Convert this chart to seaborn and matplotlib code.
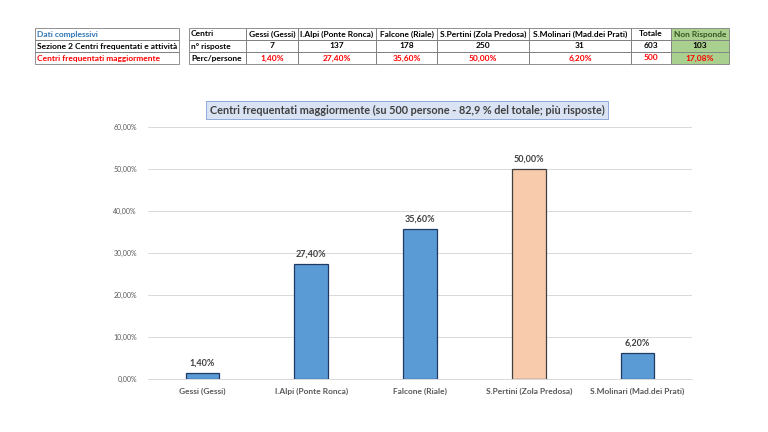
import matplotlib
matplotlib.use("Agg")
import matplotlib.pyplot as plt
import seaborn as sns
import pandas as pd
from matplotlib.patches import Rectangle
from matplotlib.ticker import FuncFormatter

categories = ["Gessi (Gessi)", "I.Alpi (Ponte Ronca)", "Falcone (Riale)",
              "S.Pertini (Zola Predosa)", "S.Molinari (Mad.dei Prati)"]
risposte = [7, 137, 178, 250, 31]
percentuali = [1.40, 27.40, 35.60, 50.00, 6.20]
totale = 603
persone = 500
non_risponde = 103
non_risponde_perc = "17,08%"
left_rows = ["Dati complessivi", "Sezione 2 Centri frequentati e attività",
             "Centri frequentati maggiormente"]
title = "Centri frequentati maggiormente (su 500 persone - 82,9 % del totale; più risposte)"

sns.set_theme(style="white")
plt.rcParams['font.family'] = ['Lato', 'DejaVu Sans']

W, H = 768, 432
fig = plt.figure(figsize=(W / 100, H / 100), dpi=100)

def fx(px):
    return px / W

def fy(py):
    return 1 - py / H

# ---------- tables ----------
row_y = [28, 40, 52, 64]
def cell(x0, x1, r, text, color="black", bold=True, ha="center", fill=None):
    y0, y1 = row_y[r], row_y[r + 1]
    fig.patches.append(Rectangle((fx(x0), fy(y1)), fx(x1 - x0), (y1 - y0) / H,
                                 transform=fig.transFigure, facecolor=fill if fill else "none",
                                 edgecolor="#7f7f7f", linewidth=0.6))
    tx = fx(x0 + 2) if ha == "left" else fx((x0 + x1) / 2)
    fig.text(tx, fy((y0 + y1) / 2), text, ha=ha, va="center", fontsize=6,
             color=color, fontweight="bold" if bold else "normal")

left_colors = ["#2E75B6", "black", "#FF0000"]
for r, (t, c) in enumerate(zip(left_rows, left_colors)):
    cell(35, 179, r, t, color=c, ha="left", bold=True)

cols = [189, 246, 298, 376, 437, 529, 631, 671, 729]
header = ["Centri"] + categories + ["Totale", "Non Risponde"]
row2 = ["n° risposte"] + [str(v) for v in risposte] + [str(totale), str(non_risponde)]
row3 = ["Perc/persone"] + [f"{v:.2f}%".replace(".", ",") for v in percentuali] + [str(persone), non_risponde_perc]
for i in range(len(cols) - 1):
    fill = "#A9D08E" if i == len(cols) - 2 else None
    ha = "left" if i == 0 else "center"
    cell(cols[i], cols[i + 1], 0, header[i], ha=ha, fill=fill,
         color="#375623" if fill else "black")
    cell(cols[i], cols[i + 1], 1, row2[i], ha=ha, fill=fill)
    cell(cols[i], cols[i + 1], 2, row3[i], ha=ha, fill=fill,
         color="black" if i == 0 else "#FF0000")

# ---------- chart ----------
ax = fig.add_axes([fx(148), fy(379), fx(692 - 148), (379 - 127) / H])
df = pd.DataFrame({"Centro": categories, "Perc": percentuali})
palette = ["#5B9BD5", "#5B9BD5", "#5B9BD5", "#F8CBAD", "#5B9BD5"]
sns.barplot(data=df, x="Centro", y="Perc", hue="Centro", palette=palette,
            width=0.31, legend=False, ax=ax, linewidth=0.9, saturation=1)
edges = ["#203864", "#203864", "#203864", "#404040", "#203864"]
for p, e in zip(ax.patches, edges):
    p.set_edgecolor(e)
    p.set_zorder(3)

ax.set_ylim(0, 60)
ax.set_yticks(range(0, 61, 10))
ax.yaxis.set_major_formatter(FuncFormatter(lambda v, _: f"{v:.2f}%".replace(".", ",")))
ax.grid(axis="y", color="#d9d9d9", linewidth=0.7, zorder=0)
ax.set_axisbelow(True)
for s in ["top", "right", "left"]:
    ax.spines[s].set_visible(False)
ax.spines["bottom"].set_color("#d9d9d9")
ax.spines["bottom"].set_linewidth(0.7)
ax.tick_params(axis="y", labelsize=5, colors="#595959", length=0, pad=8)
ax.tick_params(axis="x", labelsize=6, colors="#595959", length=0, pad=6)
for lab in ax.get_xticklabels():
    lab.set_fontweight("bold")
ax.set_xlabel("")
ax.set_ylabel("")

for i, v in enumerate(percentuali):
    ax.text(i, v + 1.3, f"{v:.2f}%".replace(".", ","), ha="center", va="bottom",
            fontsize=6.5, fontweight="bold", color="#404040")

fig.text(fx(407), fy(110), title, ha="center", va="center", fontsize=7.8,
         color="#404040", fontweight="bold",
         bbox=dict(boxstyle="square,pad=0.35", facecolor="#DAE3F3",
                   edgecolor="#8FAADC", linewidth=0.7))

fig.savefig("out.png", dpi=100, facecolor="white")
